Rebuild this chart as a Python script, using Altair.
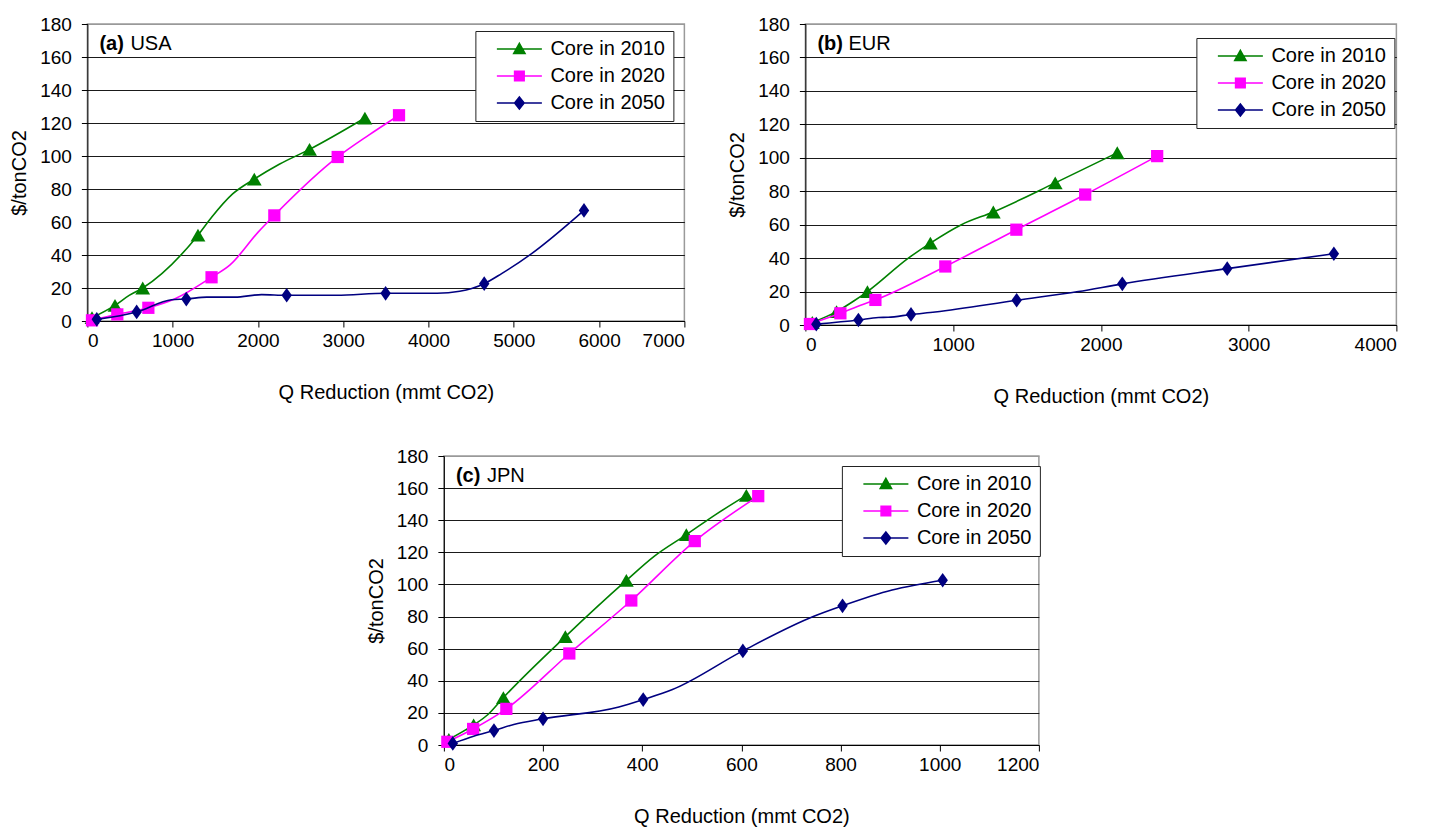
import altair as alt
import pandas as pd

FONT = "Liberation Sans"
SERIES = ["Core in 2010", "Core in 2020", "Core in 2050"]
COLORS = ["#008000", "#FF00FF", "#000080"]
MARKER_SHAPES = ["triangle-up", "square", "M0,-1.2L0.85,0L0,1.2L-0.85,0Z"]
MARKER_SIZES = [220, 150, 150]
LEGEND_SHAPES = [
    "M-3.75,0H3.75M0,-0.95L0.95,0.75H-0.95Z",
    "M-3.75,0H3.75M-0.8,-0.8H0.8V0.8H-0.8Z",
    "M-3.75,0H3.75M0,-1L0.8,0L0,1L-0.8,0Z",
]
Y_TICKS = list(range(0, 181, 20))
X_TITLE = "Q Reduction (mmt CO2)"
Y_TITLE = "$/tonCO2"

# ---------------- (a) USA ----------------
USA_2010_MX = [54, 324, 649, 1297, 1957, 2605, 3254]
USA_2010_MY = [2, 9.5, 20, 52, 86, 104, 123]
USA_2010_LX = [54, 324, 490, 649, 1297, 1459, 1703, 1957, 2250, 2605, 3254]
USA_2010_LY = [2, 9.5, 15.5, 20, 52, 63, 77, 86, 95, 104, 123]

USA_2020_MX = [54, 351, 715, 1456, 2192, 2935, 3654]
USA_2020_MY = [0.4, 4, 8, 26.5, 64, 99.4, 124.7]
USA_2020_LX = [54, 351, 715, 1028, 1456, 1673, 2005, 2192, 2935, 3295, 3654]
USA_2020_LY = [0.4, 4, 8, 13.5, 26.5, 34, 54, 64, 99.4, 112.5, 124.7]

USA_2050_MX = [110, 578, 1160, 2337, 3497, 4653, 5823]
USA_2050_MY = [1, 5.5, 13.3, 15.6, 16.8, 22.6, 67]
USA_2050_LX = [110, 578, 988, 1160, 1399, 1730, 2043, 2337, 2922, 3497, 4100, 4366, 4653, 4857, 5209, 5823]
USA_2050_LY = [1, 5.5, 12.9, 13.3, 14.5, 14.5, 16, 15.6, 15.6, 16.8, 16.8, 18, 22.6, 28.7, 40.8, 67]

# ---------------- (b) EUR ----------------
EUR_2010_MX = [47, 211, 420, 846, 1272, 1691, 2111]
EUR_2010_MY = [1.5, 8, 20, 49, 67.6, 85, 103]
EUR_2010_LX = [47, 211, 330, 420, 697, 846, 1056, 1272, 1691, 2111]
EUR_2010_LY = [1.5, 8, 14.5, 20, 40, 49, 60, 67.6, 85, 103]

EUR_2020_MX = [31, 237, 474, 947, 1428, 1894, 2381]
EUR_2020_MY = [0.6, 7, 15, 35, 57, 78, 101]
EUR_2020_LX = [31, 237, 379, 474, 947, 1428, 1894, 2381]
EUR_2020_LY = [0.6, 7, 12, 15, 35, 57, 78, 101]

EUR_2050_MX = [74, 359, 715, 1430, 2145, 2855, 3577]
EUR_2050_MY = [0.5, 3, 6.3, 14.8, 24.6, 33.7, 42.6]
EUR_2050_LX = [74, 359, 494, 560, 715, 878, 1430, 1847, 2145, 2855, 3577]
EUR_2050_LY = [0.5, 3, 4.5, 4.6, 6.3, 7.8, 14.8, 20, 24.6, 33.7, 42.6]

# ---------------- (c) JPN ----------------
JPN_2010_MX = [10, 60, 120, 245, 368, 489, 610]
JPN_2010_MY = [3.5, 12.5, 29.5, 67.5, 102.5, 131, 155.5]
JPN_2010_LX = [10, 60, 89, 120, 245, 368, 424, 489, 548, 610]
JPN_2010_LY = [3.5, 12.5, 19, 29.5, 67.5, 102.5, 117.5, 131, 143.5, 155.5]

JPN_2020_MX = [7, 59, 126, 253, 378, 506, 634]
JPN_2020_MY = [2, 10, 22.5, 57, 90, 127, 155]
JPN_2020_LX = [7, 59, 126, 253, 378, 506, 634]
JPN_2020_LY = [2, 10, 22.5, 57, 90, 127, 155]

JPN_2050_MX = [18, 101, 200, 402, 603, 804, 1006]
JPN_2050_MY = [1, 9, 16.3, 28.3, 58.6, 86.7, 102.6]
JPN_2050_LX = [18, 60, 101, 141, 200, 353, 402, 461, 603, 745, 804, 904, 1006]
JPN_2050_LY = [1, 5.5, 9, 12.8, 16.3, 23.7, 28.3, 34.5, 58.6, 80, 86.7, 96.5, 102.6]


def make_panel(tag, region, lines, marks, xmax, xstep, width, height, legend_x, legend_y):
    xenc = alt.X(
        "x:Q",
        scale=alt.Scale(domain=[0, xmax], nice=False, zero=True),
        axis=alt.Axis(
            values=list(range(0, xmax + 1, xstep)), format="d", title=X_TITLE,
            grid=False, tickSize=6, labelPadding=4, titlePadding=32,
        ),
    )
    yenc = alt.Y(
        "y:Q",
        scale=alt.Scale(domain=[0, 180], nice=False),
        axis=alt.Axis(
            values=Y_TICKS, title=Y_TITLE, grid=True, tickSize=6,
            labelPadding=10, titlePadding=10,
            gridColor=alt.condition("datum.value == 180", alt.value("#999999"), alt.value("#1a1a1a")),
        ),
    )
    layers = []
    for i in range(3):
        lx, ly = lines[i]
        mx, my = marks[i]
        ldf = pd.DataFrame({"x": lx, "y": ly})
        mdf = pd.DataFrame({"x": mx, "y": my})
        layers.append(
            alt.Chart(ldf).mark_line(color=COLORS[i], strokeWidth=1.6, interpolate="monotone")
            .encode(x=xenc, y=yenc)
        )
        layers.append(
            alt.Chart(mdf).mark_point(shape=MARKER_SHAPES[i], filled=True, color=COLORS[i],
                                      size=MARKER_SIZES[i], opacity=1)
            .encode(x=xenc, y=yenc)
        )
    legdf = pd.DataFrame({
        "series": SERIES,
        "x": [m[0][0] for m in marks],
        "y": [m[1][0] for m in marks],
    })
    leg = alt.Legend(
        title=None, orient="none", legendX=legend_x, legendY=legend_y,
        padding=8, symbolSize=144, symbolOffset=26, labelOffset=21,
        symbolStrokeWidth=1.5, symbolOpacity=1, rowPadding=7,
        labelFont=FONT, labelFontSize=20, labelColor="black",
        strokeColor="#222222", fillColor="white",
    )
    layers.append(
        alt.Chart(legdf).mark_point(opacity=0, strokeWidth=1.5).encode(
            x=xenc, y=yenc,
            fill=alt.Fill("series:N", scale=alt.Scale(domain=SERIES, range=COLORS), legend=leg),
            stroke=alt.Stroke("series:N", scale=alt.Scale(domain=SERIES, range=COLORS), legend=leg),
            shape=alt.Shape("series:N", scale=alt.Scale(domain=SERIES, range=LEGEND_SHAPES), legend=leg),
        )
    )
    layers.append(
        alt.Chart(pd.DataFrame({"t": [tag]})).mark_text(
            font=FONT, fontSize=20, fontWeight="bold", align="left", baseline="middle", color="black"
        ).encode(x=alt.value(12), y=alt.value(20), text="t:N")
    )
    layers.append(
        alt.Chart(pd.DataFrame({"t": [region]})).mark_text(
            font=FONT, fontSize=20, align="left", baseline="middle", color="black"
        ).encode(x=alt.value(43), y=alt.value(20), text="t:N")
    )
    return alt.layer(*layers).properties(width=width, height=height)


panel_a = make_panel(
    "(a)", "USA",
    [(USA_2010_LX, USA_2010_LY), (USA_2020_LX, USA_2020_LY), (USA_2050_LX, USA_2050_LY)],
    [(USA_2010_MX, USA_2010_MY), (USA_2020_MX, USA_2020_MY), (USA_2050_MX, USA_2050_MY)],
    7000, 1000, 597, 297, 388, 7,
)
panel_b = make_panel(
    "(b)", "EUR",
    [(EUR_2010_LX, EUR_2010_LY), (EUR_2020_LX, EUR_2020_LY), (EUR_2050_LX, EUR_2050_LY)],
    [(EUR_2010_MX, EUR_2010_MY), (EUR_2020_MX, EUR_2020_MY), (EUR_2050_MX, EUR_2050_MY)],
    4000, 1000, 591, 301, 391, 14,
)
panel_c = make_panel(
    "(c)", "JPN",
    [(JPN_2010_LX, JPN_2010_LY), (JPN_2020_LX, JPN_2020_LY), (JPN_2050_LX, JPN_2050_LY)],
    [(JPN_2010_MX, JPN_2010_MY), (JPN_2020_MX, JPN_2020_MY), (JPN_2050_MX, JPN_2050_MY)],
    1200, 200, 595, 289, 398, 10,
)

top = alt.hconcat(panel_a, panel_b, spacing=40).resolve_scale(
    fill="independent", stroke="independent", shape="independent"
)
chart = (
    alt.vconcat(top, panel_c, spacing=39, center=True)
    .resolve_scale(fill="independent", stroke="independent", shape="independent")
    .properties(padding={"left": 0, "top": 6, "right": 0, "bottom": 0})
    .configure(font=FONT, background="white")
    .configure_view(stroke="#9a9a9a", strokeWidth=1.5)
    .configure_axis(
        labelFont=FONT, titleFont=FONT, labelFontSize=19, titleFontSize=20,
        titleFontWeight="normal", labelColor="black", titleColor="black",
        domainColor="black", tickColor="black", domainWidth=1, tickWidth=1,
    )
)

chart.save("out.html", embed_options={"renderer": "svg", "actions": False})
